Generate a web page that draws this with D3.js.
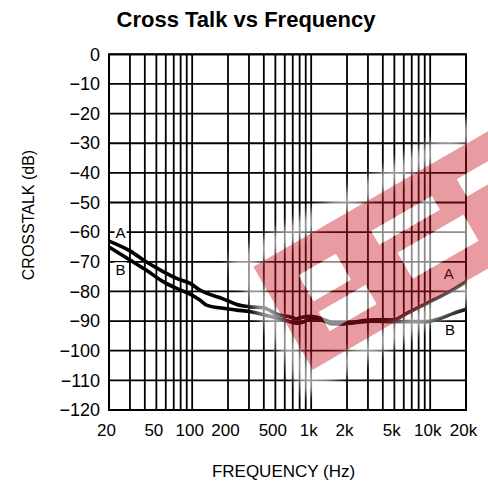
<!DOCTYPE html>
<html>
<head>
<meta charset="utf-8">
<script src="https://cdn.jsdelivr.net/npm/d3@7"></script>
<style>
  body { margin: 0; background: #fff; }
  svg { display: block; font-family: "Liberation Sans", Arial, sans-serif; }
</style>
</head>
<body>
<svg id="chart" width="488" height="493"></svg>
<script>
// ---- data ----
const gridFreqs = [30, 40, 50, 60, 70, 80, 90, 100, 200, 300, 400, 500, 600, 700, 800, 900,
                   1000, 2000, 3000, 4000, 5000, 6000, 7000, 8000, 9000, 10000];
const labelFreqs = [20, 50, 100, 200, 500, 1000, 2000, 5000, 10000, 20000];
const labelText  = ["20", "50", "100", "200", "500", "1k", "2k", "5k", "10k", "20k"];
const dbTicks = [0, -10, -20, -30, -40, -50, -60, -70, -80, -90, -100, -110, -120];

// channel A
const freqA = [20, 30, 41, 57, 74, 96, 116, 132, 182, 237, 306, 396, 513, 583, 664, 755, 859,
               978, 1112, 1534, 1746, 3327, 4900, 6354, 9355, 13780, 20000];
const dbA   = [-63, -66.3, -70, -73.3, -75.6, -77.3, -79.5, -80.6, -82.5, -84.4, -85.2, -85.5,
               -87.6, -88.2, -88.6, -89.2, -88.6, -88.4, -88.7, -90.6, -90.8, -89.6, -89.6,
               -87.4, -84, -80.6, -76.7];
// channel B
const freqB = [20, 30, 41, 57, 74, 96, 116, 132, 182, 237, 306, 396, 513, 583, 664, 755, 859,
               978, 1112, 1534, 1746, 3327, 4900, 7213, 9355, 12100, 15640, 20000];
const dbB   = [-65, -69.4, -72.8, -76.7, -79, -80.9, -82.9, -84.6, -85.7, -86.3, -86.8, -87.8,
               -89, -89.5, -90.2, -90.7, -90.3, -89.4, -89.2, -91, -91, -90, -90.2, -90.2,
               -90.2, -89.1, -87.4, -86];

// series tags: [text, frequency, dB]
const seriesTags = [["A", 25, -60], ["B", 25, -72.5], ["A", 14300, -74], ["B", 14700, -93]];

// ---- layout ----
const svg = d3.select("#chart");
const W = 488, H = 493;
const m = { left: 109, top: 54.3, right: 22, bottom: 83 };
const pw = W - m.left - m.right, ph = H - m.top - m.bottom;

const x = d3.scaleLog().domain([20, 20000]).range([m.left, m.left + pw]);
const y = d3.scaleLinear().domain([-120, 0]).range([m.top + ph, m.top]);

svg.append("rect").attr("width", W).attr("height", H).attr("fill", "#fff");

// title
svg.append("text")
  .attr("x", 246).attr("y", 27)
  .attr("text-anchor", "middle")
  .attr("font-weight", "bold").attr("font-size", 22)
  .text("Cross Talk vs Frequency");

// grid
const grid = svg.append("g").attr("stroke", "#000").attr("stroke-width", 1.8);
grid.selectAll("line.v").data(gridFreqs).join("line")
  .attr("class", "v")
  .attr("x1", d => x(d)).attr("x2", d => x(d))
  .attr("y1", m.top).attr("y2", m.top + ph);
grid.selectAll("line.h").data(dbTicks).join("line")
  .attr("class", "h")
  .attr("x1", m.left).attr("x2", m.left + pw)
  .attr("y1", d => y(d)).attr("y2", d => y(d));
svg.append("rect")
  .attr("x", m.left).attr("y", m.top).attr("width", pw).attr("height", ph)
  .attr("fill", "none").attr("stroke", "#000").attr("stroke-width", 2);

// axes labels
const xAxis = d3.axisBottom(x).tickValues(labelFreqs)
  .tickFormat((d, i) => labelText[i]).tickSize(0).tickPadding(14);
svg.append("g").attr("transform", `translate(0,${m.top + ph})`).call(xAxis)
  .call(g => g.select(".domain").remove())
  .call(g => g.selectAll("text").attr("font-size", 17).attr("fill", "#000")
                .attr("font-family", "Liberation Sans, Arial, sans-serif").attr("dx", -3));

const yAxis = d3.axisLeft(y).tickValues(dbTicks).tickSize(0).tickPadding(9)
  .tickFormat(d => d === 0 ? "0" : "\u2212" + Math.abs(d));
svg.append("g").attr("transform", `translate(${m.left},0)`).call(yAxis)
  .call(g => g.select(".domain").remove())
  .call(g => g.selectAll("text").attr("font-size", 18).attr("fill", "#000")
                .attr("font-family", "Liberation Sans, Arial, sans-serif"));

svg.append("text")
  .attr("x", m.left + pw / 2 - 4).attr("y", 477)
  .attr("text-anchor", "middle").attr("font-size", 17)
  .text("FREQUENCY (Hz)");
svg.append("text")
  .attr("transform", `translate(34,215) rotate(-90)`)
  .attr("text-anchor", "middle").attr("font-size", 16)
  .text("CROSSTALK (dB)");

// curves
const line = d3.line().x(d => x(d[0])).y(d => y(d[1])).curve(d3.curveMonotoneX);
const curves = svg.append("g").attr("fill", "none").attr("stroke", "#000")
  .attr("stroke-width", 3.6).attr("stroke-linejoin", "round");
curves.append("path").attr("d", line(d3.zip(freqA, dbA)));
curves.append("path").attr("d", line(d3.zip(freqB, dbB)));

// series tags
const tags = svg.append("g");
seriesTags.forEach(([t, f, db]) => {
  const cx = x(f), cy = y(db);
  tags.append("rect").attr("x", cx - 6).attr("y", cy - 7).attr("width", 12).attr("height", 14)
    .attr("fill", "#fff");
  tags.append("text").attr("x", cx).attr("y", cy + 5.5)
    .attr("text-anchor", "middle").attr("font-size", 15).text(t);
});

// ---- stamp overlay ----
const defs = svg.append("defs");
defs.append("filter").attr("id", "soft").attr("x", "-20%").attr("y", "-40%")
  .attr("width", "140%").attr("height", "180%")
  .append("feGaussianBlur").attr("stdDeviation", 5);

const bandL = 340, bandH = 119, pad = 20;
const holes = [[35, 30, 43, 30], [34, 72, 54, 22], [120, 28, 70, 16], [132, 60, 76, 30], [220, 26, 140, 20]];
const stamp = svg.append("g").attr("transform", "translate(253.3,266.7) rotate(-30)");

const rectPath = (rx, ry, rw, rh) => `M${rx},${ry}h${rw}v${rh}h${-rw}Z`;
stamp.append("path")
  .attr("d", rectPath(-pad, -pad, bandL + 2 * pad, bandH + 2 * pad) + rectPath(0, 0, bandL, bandH))
  .attr("fill-rule", "evenodd").attr("fill", "#fff").attr("opacity", 0.6)
  .attr("filter", "url(#soft)");
stamp.append("path")
  .attr("d", rectPath(0, 0, bandL, bandH) + holes.map(h => rectPath(...h)).join(""))
  .attr("fill-rule", "evenodd").attr("fill", "#c8101c").attr("fill-opacity", 0.42);
stamp.selectAll("rect.hole").data(holes).join("rect")
  .attr("class", "hole")
  .attr("x", d => d[0]).attr("y", d => d[1]).attr("width", d => d[2]).attr("height", d => d[3])
  .attr("fill", "#fff").attr("opacity", 0.55);
</script>
</body>
</html>
